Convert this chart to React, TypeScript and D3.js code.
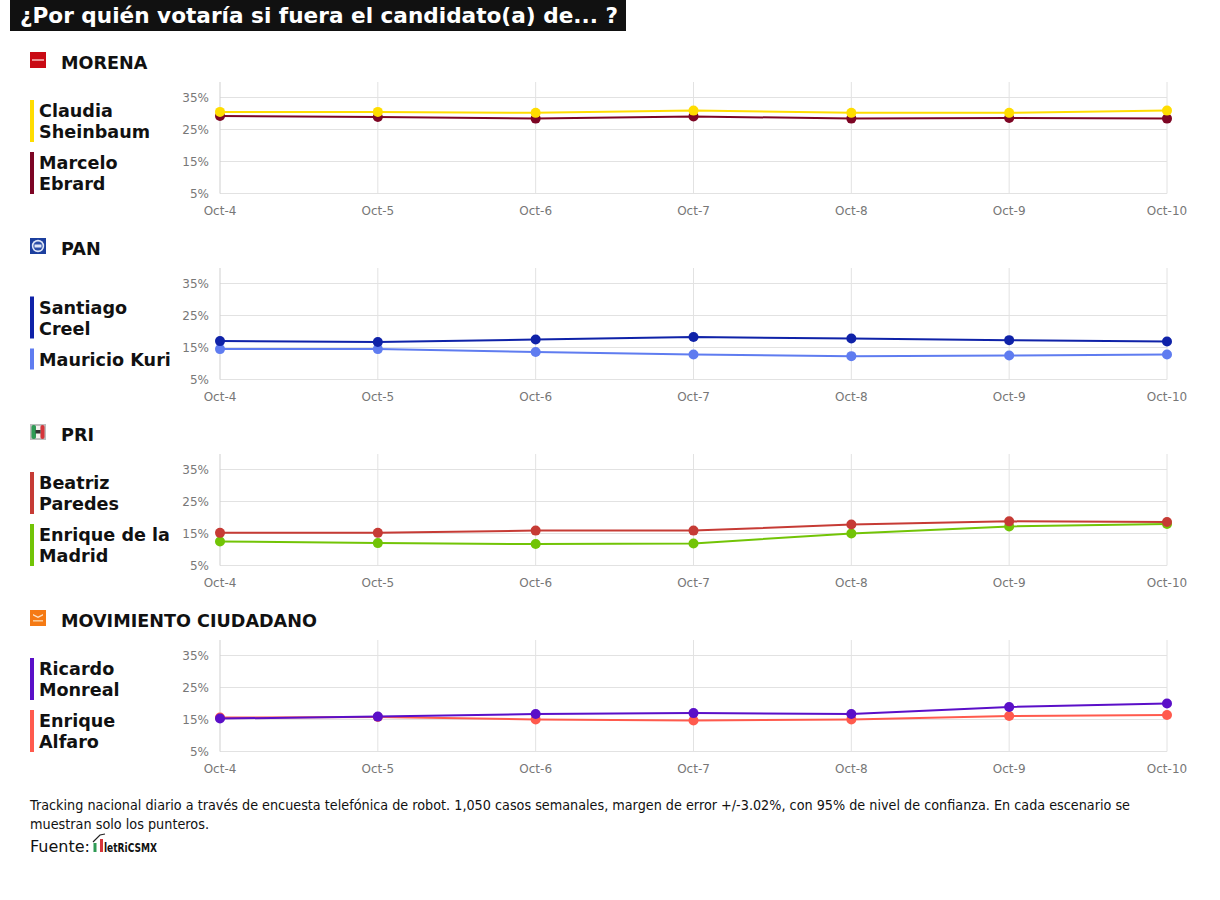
import React from "react";
import * as d3 from "d3";

const days = ["Oct-4", "Oct-5", "Oct-6", "Oct-7", "Oct-8", "Oct-9", "Oct-10"];
const yTicks = [5, 15, 25, 35];

const sheinbaum = [30.5, 30.5, 30.2, 30.9, 30.2, 30.2, 30.9];
const ebrard = [29.2, 28.9, 28.4, 29.1, 28.4, 28.6, 28.4];
const creel = [17.0, 16.7, 17.5, 18.3, 17.8, 17.3, 16.9];
const kuri = [14.5, 14.5, 13.6, 12.8, 12.3, 12.5, 12.8];
const paredes = [15.2, 15.2, 15.9, 15.9, 17.8, 18.8, 18.6];
const madrid = [12.5, 12.0, 11.7, 11.9, 15.0, 17.2, 18.0];
const monreal = [15.3, 15.9, 16.7, 17.0, 16.7, 18.9, 20.0];
const alfaro = [15.6, 15.8, 15.0, 14.7, 15.0, 16.1, 16.4];

type Serie = { name: string[]; color: string; values: number[] };
type Panel = { party: string; logo: string; series: Serie[] };

const panels: Panel[] = [
  {
    party: "MORENA",
    logo: "morena",
    series: [
      { name: ["Claudia", "Sheinbaum"], color: "#ffdd00", values: sheinbaum },
      { name: ["Marcelo", "Ebrard"], color: "#7d0524", values: ebrard },
    ],
  },
  {
    party: "PAN",
    logo: "pan",
    series: [
      { name: ["Santiago", "Creel"], color: "#0f22a8", values: creel },
      { name: ["Mauricio Kuri"], color: "#5f7cf0", values: kuri },
    ],
  },
  {
    party: "PRI",
    logo: "pri",
    series: [
      { name: ["Beatriz", "Paredes"], color: "#c63b35", values: paredes },
      { name: ["Enrique de la", "Madrid"], color: "#72c406", values: madrid },
    ],
  },
  {
    party: "MOVIMIENTO CIUDADANO",
    logo: "mc",
    series: [
      { name: ["Ricardo", "Monreal"], color: "#5a0fc8", values: monreal },
      { name: ["Enrique", "Alfaro"], color: "#ff5a4d", values: alfaro },
    ],
  },
];

const FONT = '"DejaVu Sans", sans-serif';
const PANEL_STEP = 186;
const LINE_H = 21;
const LEGEND_GAP = 10;
const LEGEND_MID = 147;

const x = d3.scalePoint<string>().domain(days).range([220, 1167]);
const y = d3.scaleLinear().domain([5, 35]).range([193.5, 97.5]);

const lineGen = d3
  .line<number>()
  .x((_, i) => x(days[i]) as number)
  .y((d) => y(d));

const Logo: React.FC<{ kind: string }> = ({ kind }) => {
  if (kind === "morena") {
    return (
      <g>
        <rect x={30} y={52} width={16} height={16} fill="#c90a14" />
        <rect x={32} y={59} width={12} height={2} fill="#ec8f92" />
      </g>
    );
  }
  if (kind === "pan") {
    return (
      <g>
        <rect x={30} y={52} width={16} height={16} fill="#1c3f9e" />
        <circle cx={38} cy={60} r={6.2} fill="#dfe6f7" />
        <circle cx={38} cy={60} r={4.6} fill="#2b4ea8" />
        <rect x={34.5} y={58.5} width={7} height={3} fill="#dfe6f7" />
      </g>
    );
  }
  if (kind === "pri") {
    return (
      <g>
        <rect x={30} y={52} width={16} height={16} fill="#bdbdbd" />
        <rect x={31.5} y={53} width={4.5} height={14} rx={2} fill="#2f9a55" />
        <rect x={36} y={54} width={4.5} height={12} fill="#f4f1ee" />
        <rect x={40.5} y={53} width={4} height={14} rx={2} fill="#d6353b" />
        <rect x={35.5} y={58} width={5} height={3.5} fill="#333" />
      </g>
    );
  }
  return (
    <g>
      <rect x={30} y={52} width={16} height={16} fill="#f57a14" />
      <path d="M33 56 L38 58.5 L43 56 L43 57.5 L38 60 L33 57.5 Z" fill="#fde3c8" />
      <rect x={33} y={62} width={10} height={1.6} fill="#fbc892" />
    </g>
  );
};

const ChartPanel: React.FC<{ panel: Panel; index: number }> = ({ panel, index }) => {
  const heights = panel.series.map((s) => s.name.length * LINE_H);
  const total = d3.sum(heights) + LEGEND_GAP * (heights.length - 1);
  let legendY = LEGEND_MID - total / 2;
  return (
    <g transform={`translate(0,${index * PANEL_STEP})`}>
      <Logo kind={panel.logo} />
      <text x={61} y={68.5} fontSize={17.6} fontWeight={700} fill="#111">
        {panel.party}
      </text>

      {panel.series.map((s, si) => {
        const top = legendY;
        legendY += heights[si] + LEGEND_GAP;
        return (
          <g key={s.name.join(" ")}>
            <rect x={30} y={top} width={4} height={heights[si]} fill={s.color} />
            {s.name.map((line, i) => (
              <text key={line} x={39} y={top + 17 + i * LINE_H} fontSize={17.6} fontWeight={700} fill="#111">
                {line}
              </text>
            ))}
          </g>
        );
      })}

      {yTicks.map((t) => (
        <g key={t}>
          <line x1={220} x2={1167} y1={y(t)} y2={y(t)} stroke="#e2e2e2" />
          <text x={209} y={y(t) + 4} textAnchor="end" fontSize={12} fill="#777">
            {t}%
          </text>
        </g>
      ))}
      {days.map((d, i) => (
        <g key={d}>
          <line
            x1={x(d)}
            x2={x(d)}
            y1={82}
            y2={193.5}
            stroke={i === 0 ? "#cfcfcf" : "#e2e2e2"}
          />
          <text x={x(d)} y={215} textAnchor="middle" fontSize={12} fill="#777">
            {d}
          </text>
        </g>
      ))}

      {/* la primera serie queda encima */}
      {[...panel.series].reverse().map((s) => (
        <g key={s.color}>
          <path d={lineGen(s.values) ?? ""} fill="none" stroke={s.color} strokeWidth={2} />
          {s.values.map((v, i) => (
            <circle key={i} cx={x(days[i])} cy={y(v)} r={5} fill={s.color} />
          ))}
        </g>
      ))}
    </g>
  );
};

const App: React.FC = () => (
  <svg
    width={1220}
    height={900}
    viewBox="0 0 1220 900"
    style={{ position: "absolute", left: 0, top: 0, background: "#fff" }}
    fontFamily={FONT}
  >
    <rect x={10} y={0} width={616} height={31} fill="#111" />
    <text x={20} y={23} fontSize={21.6} fontWeight={700} fill="#fff">
      ¿Por quién votaría si fuera el candidato(a) de... ?
    </text>

    {panels.map((p, i) => (
      <ChartPanel key={p.party} panel={p} index={i} />
    ))}

    <text x={30} y={810} fontSize={13.7} fill="#111" textLength={1100} lengthAdjust="spacingAndGlyphs">
      Tracking nacional diario a través de encuesta telefónica de robot. 1,050 casos semanales, margen de error +/-3.02%, con 95% de nivel de confianza. En cada escenario se
    </text>
    <text x={30} y={829} fontSize={13.7} fill="#111" textLength={179} lengthAdjust="spacingAndGlyphs">
      muestran solo los punteros.
    </text>
    <text x={30} y={852} fontSize={16} fill="#111">
      Fuente:
    </text>
    <rect x={93.5} y={843} width={3} height={9} fill="#2f9a55" />
    <rect x={100} y={839} width={3} height={13} fill="#d6353b" />
    <path d="M93 842 L100 835 L105 834" fill="none" stroke="#222" strokeWidth={1.2} />
    <text
      x={104}
      y={852}
      fontSize={13}
      fontWeight={700}
      fill="#111"
      textLength={53}
      lengthAdjust="spacingAndGlyphs"
      fontFamily='"DejaVu Sans Condensed", "DejaVu Sans", sans-serif'
    >
      letRiCSMX
    </text>
  </svg>
);

export default App;
